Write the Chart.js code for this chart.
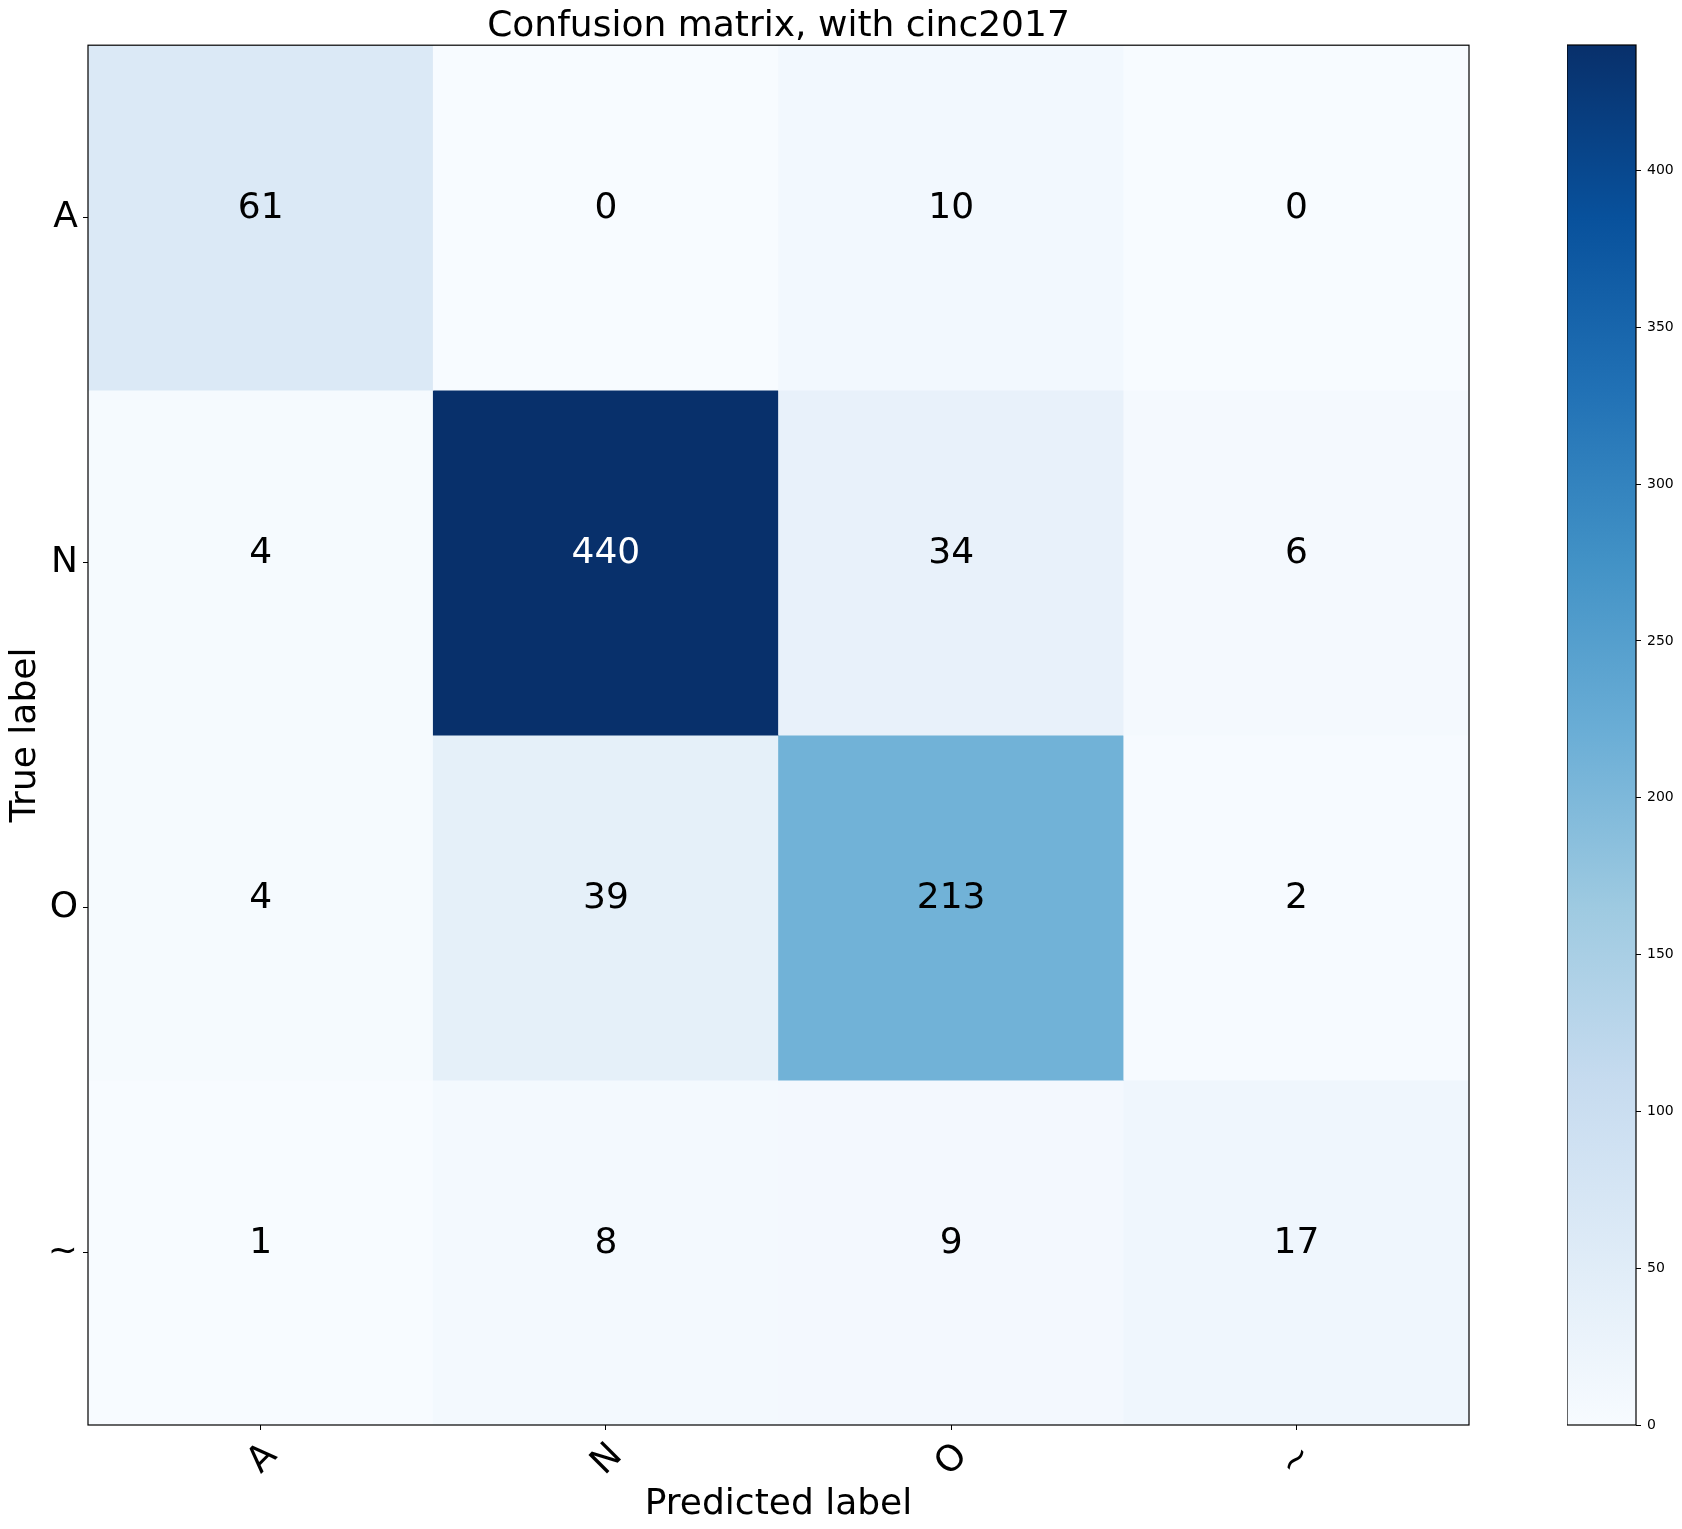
<!DOCTYPE html>
<html>
<head>
<meta charset="utf-8">
<title>Confusion matrix, with cinc2017</title>
<script src="https://cdn.jsdelivr.net/npm/chart.js@4.4.0/dist/chart.umd.min.js"></script>
<style>
  body { margin: 0; background: #fff; }
  #wrap { position: relative; width: 1682px; height: 1529px; }
  #matrix { position: absolute; left: 0; top: 0; }
  #colorbar { position: absolute; left: 1567px; top: 0; }
</style>
</head>
<body>
<div id="wrap">
  <canvas id="matrix" width="1682" height="1529"></canvas>
  <canvas id="colorbar" width="115" height="1529"></canvas>
</div>
<script>
// class labels (predicted = columns, true = rows)
const labels = ['A', 'N', 'O', '~'];

// counts per true label row
const rowA = [61, 0, 10, 0];
const rowN = [4, 440, 34, 6];
const rowO = [4, 39, 213, 2];
const rowTilde = [1, 8, 9, 17];
const rows = [rowA, rowN, rowO, rowTilde];

const colorbarTicks = [0, 50, 100, 150, 200, 250, 300, 350, 400];
const vmax = 440;

// matplotlib "Blues"
const bluesStops = ['#f7fbff', '#deebf7', '#c6dbef', '#9ecae1', '#6baed6', '#4292c6', '#2171b5', '#08519c', '#08306b'];

function hexToRgb(h) {
  return [parseInt(h.slice(1, 3), 16), parseInt(h.slice(3, 5), 16), parseInt(h.slice(5, 7), 16)];
}

function blues(t) {
  t = Math.max(0, Math.min(1, t));
  const n = bluesStops.length - 1;
  const i = Math.min(Math.floor(t * n), n - 1);
  const f = t * n - i;
  const a = hexToRgb(bluesStops[i]);
  const b = hexToRgb(bluesStops[i + 1]);
  const c = a.map((v, k) => Math.round(v + (b[k] - v) * f));
  return 'rgb(' + c.join(',') + ')';
}

Chart.defaults.font.family = '"DejaVu Sans", sans-serif';
Chart.defaults.color = '#000';

// black box round the plot area
const frame = {
  id: 'frame',
  afterDatasetsDraw(chart) {
    const a = chart.chartArea;
    const ctx = chart.ctx;
    ctx.save();
    ctx.strokeStyle = '#000';
    ctx.lineWidth = 1.2;
    ctx.strokeRect(a.left, a.top, a.right - a.left, a.bottom - a.top);
    ctx.restore();
  }
};

// numbers in each cell
const cellText = {
  id: 'cellText',
  afterDatasetsDraw(chart) {
    const ctx = chart.ctx;
    ctx.save();
    ctx.font = '36px "DejaVu Sans"';
    ctx.textAlign = 'center';
    ctx.textBaseline = 'alphabetic';
    chart.data.datasets.forEach((ds, r) => {
      chart.getDatasetMeta(r).data.forEach((bar, c) => {
        const v = rows[r][c];
        ctx.fillStyle = v > vmax / 2 ? '#fff' : '#000';
        ctx.fillText(String(v), bar.x, (bar.y + bar.base) / 2);
      });
    });
    ctx.restore();
  }
};

const datasets = rows.map((row, r) => ({
  label: labels[r],
  data: row.map(() => [r - 0.5, r + 0.5]),
  backgroundColor: row.map(v => blues(v / vmax)),
  borderWidth: 0,
  grouped: false,
  barPercentage: 1,
  categoryPercentage: 1
}));

new Chart(document.getElementById('matrix'), {
  type: 'bar',
  data: { labels: labels, datasets: datasets },
  options: {
    responsive: false,
    animation: false,
    layout: { padding: { left: 0, right: 213, top: 0, bottom: 0 } },
    plugins: {
      legend: { display: false },
      tooltip: { enabled: false },
      title: {
        display: true,
        text: 'Confusion matrix, with cinc2017',
        fullSize: false,
        font: { size: 36, weight: 'normal' },
        color: '#000',
        padding: { top: 5, bottom: -3 }
      }
    },
    scales: {
      x: {
        type: 'category',
        offset: true,
        grid: { offset: false, drawOnChartArea: false, drawTicks: true, tickLength: 5, tickColor: '#000' },
        border: { display: false },
        ticks: { font: { size: 36 }, maxRotation: 45, minRotation: 45, padding: 5, labelOffset: 11, color: '#000' },
        title: { display: true, text: 'Predicted label', font: { size: 36 }, padding: { top: 0, bottom: 3 }, color: '#000' },
        afterFit: (scale) => { scale.height = 104; }
      },
      y: {
        type: 'linear',
        min: -0.5,
        max: 3.5,
        reverse: true,
        grid: { drawOnChartArea: false, drawTicks: true, tickLength: 5, tickColor: '#000' },
        border: { display: false },
        afterBuildTicks: (scale) => { scale.ticks = labels.map((l, i) => ({ value: i })); },
        ticks: { font: { size: 36 }, padding: 5, color: '#000', callback: (v) => labels[v] },
        title: { display: true, text: 'True label', font: { size: 36 }, padding: { top: 4, bottom: 0 }, color: '#000' },
        afterFit: (scale) => { scale.width = 88; }
      }
    }
  },
  plugins: [cellText, frame]
});

// colour bar
new Chart(document.getElementById('colorbar'), {
  type: 'bar',
  data: {
    labels: [''],
    datasets: [{
      data: [[0, vmax]],
      borderWidth: 0,
      barPercentage: 1,
      categoryPercentage: 1,
      backgroundColor: (ctx) => {
        const chart = ctx.chart;
        const y = chart.scales.y;
        if (!chart.chartArea || !y) return blues(0.5);
        const g = chart.ctx.createLinearGradient(0, y.getPixelForValue(0), 0, y.getPixelForValue(vmax));
        bluesStops.forEach((c, i) => g.addColorStop(i / (bluesStops.length - 1), c));
        return g;
      }
    }]
  },
  options: {
    responsive: false,
    animation: false,
    layout: { padding: { left: 0, right: 0, top: 45, bottom: 104 } },
    plugins: { legend: { display: false }, tooltip: { enabled: false } },
    scales: {
      x: { display: false, offset: true },
      y: {
        type: 'linear',
        position: 'right',
        min: 0,
        max: vmax,
        grid: { drawOnChartArea: false, drawTicks: true, tickLength: 5, tickColor: '#000' },
        border: { display: false },
        afterBuildTicks: (scale) => { scale.ticks = colorbarTicks.map(v => ({ value: v })); },
        ticks: { font: { size: 14 }, padding: 6, color: '#000' },
        afterFit: (scale) => { scale.width = 46; }
      }
    }
  },
  plugins: [frame]
});
</script>
</body>
</html>
